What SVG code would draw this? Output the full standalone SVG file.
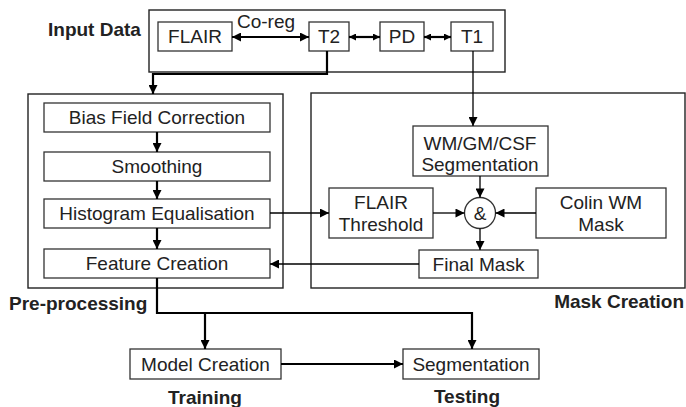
<svg xmlns="http://www.w3.org/2000/svg" width="686" height="407" viewBox="0 0 686 407">
<defs>
<style>
.box{fill:#fff;stroke:#333;stroke-width:1.3}
.grp{fill:none;stroke:#222;stroke-width:1.4}
.t{font-family:"Liberation Sans",Arial,sans-serif;font-size:19px;fill:#222;text-anchor:middle}
.b{font-family:"Liberation Sans",Arial,sans-serif;font-size:19px;font-weight:bold;fill:#222}
.c{fill:none;stroke:#000;stroke-width:1.3}
.c2{fill:none;stroke:#000;stroke-width:2.2}
</style>
<marker id="ah" viewBox="0 0 10 10" refX="10" refY="5" markerWidth="11" markerHeight="9" markerUnits="userSpaceOnUse" orient="auto-start-reverse">
<path d="M0,0 L10,5 L0,10 z" fill="#000"/>
</marker>
<marker id="ahs" viewBox="0 0 10 10" refX="10" refY="5" markerWidth="8" markerHeight="7" markerUnits="userSpaceOnUse" orient="auto-start-reverse">
<path d="M0,0 L10,5 L0,10 z" fill="#000"/>
</marker>
</defs>

<g id="labels">
<text class="b" x="48" y="36">Input Data</text>
<text class="b" x="9" y="310">Pre-processing</text>
<text class="b" x="684" y="308" text-anchor="end">Mask Creation</text>
<text class="b" x="205" y="404" text-anchor="middle">Training</text>
<text class="b" x="467" y="403" text-anchor="middle">Testing</text>
</g>

<g id="input-data"><rect class="grp" x="149" y="10" width="356" height="62"/></g>
<g id="pre-processing"><rect class="grp" x="28" y="94" width="255" height="194"/></g>
<g id="mask-creation"><rect class="grp" x="311" y="93" width="374" height="195"/></g>

<g id="flair"><rect class="box" x="158" y="22" width="74" height="29"/><text class="t" x="195" y="43">FLAIR</text></g>
<g id="t2"><rect class="box" x="309" y="22" width="40" height="29"/><text class="t" x="329" y="43">T2</text></g>
<g id="pd"><rect class="box" x="380" y="22" width="44" height="29"/><text class="t" x="402" y="43">PD</text></g>
<g id="t1"><rect class="box" x="451" y="22" width="42" height="29"/><text class="t" x="472" y="43">T1</text></g>

<g id="bias"><rect class="box" x="44" y="103" width="226" height="29"/><text class="t" x="157" y="124">Bias Field Correction</text></g>
<g id="smoothing"><rect class="box" x="44" y="152" width="226" height="29"/><text class="t" x="157" y="173">Smoothing</text></g>
<g id="histogram"><rect class="box" x="44" y="199" width="226" height="29"/><text class="t" x="157" y="220">Histogram Equalisation</text></g>
<g id="feature"><rect class="box" x="44" y="249" width="226" height="29"/><text class="t" x="157" y="270">Feature Creation</text></g>

<g id="wmgmcsf"><rect class="box" x="413" y="126" width="135" height="50"/><text class="t" x="480" y="150">WM/GM/CSF</text><text class="t" x="480" y="171">Segmentation</text></g>
<g id="flair-threshold"><rect class="box" x="329" y="188" width="104" height="50"/><text class="t" x="381" y="209">FLAIR</text><text class="t" x="381" y="231">Threshold</text></g>
<g id="and"><circle cx="480" cy="213" r="15.5" fill="#fff" stroke="#333" stroke-width="1.3"/><text class="t" x="480" y="220">&amp;</text></g>
<g id="colin"><rect class="box" x="536" y="188" width="130" height="50"/><text class="t" x="601" y="209">Colin WM</text><text class="t" x="601" y="231">Mask</text></g>
<g id="final-mask"><rect class="box" x="419" y="250" width="119" height="28"/><text class="t" x="478.5" y="271">Final Mask</text></g>

<g id="model-creation"><rect class="box" x="130" y="349" width="151" height="30"/><text class="t" x="205.5" y="371">Model Creation</text></g>
<g id="segmentation"><rect class="box" x="403" y="349" width="136" height="30"/><text class="t" x="471" y="371">Segmentation</text></g>

<g id="connectors">
<text class="t" x="266" y="28">Co-reg</text>
<line class="c2" x1="232" y1="37" x2="309" y2="37" marker-start="url(#ah)" marker-end="url(#ah)"/>
<line class="c2" x1="349" y1="37" x2="380" y2="37" marker-start="url(#ahs)" marker-end="url(#ahs)"/>
<line class="c2" x1="424" y1="37" x2="451" y2="37" marker-start="url(#ahs)" marker-end="url(#ahs)"/>
<path class="c2" d="M327,51 V74 H153 V94" marker-end="url(#ah)"/>
<path class="c" d="M473,51 V126" marker-end="url(#ah)"/>
<path class="c2" d="M157,132 V152" marker-end="url(#ah)"/>
<path class="c2" d="M157,181 V199" marker-end="url(#ah)"/>
<path class="c2" d="M157,228 V249" marker-end="url(#ah)"/>
<path class="c" d="M270,213 H329" marker-end="url(#ah)"/>
<path class="c" d="M419,264 H270" marker-end="url(#ah)"/>
<path class="c" d="M480,176 V197.5" marker-end="url(#ah)"/>
<path class="c" d="M433,213 H464.5" marker-end="url(#ah)"/>
<path class="c" d="M536,213 H495.5" marker-end="url(#ah)"/>
<path class="c" d="M480,228.5 V250" marker-end="url(#ah)"/>
<path class="c2" d="M157,278 V313 H472 V349" marker-end="url(#ah)"/>
<path class="c2" d="M205,313 V349" marker-end="url(#ah)"/>
<path class="c2" d="M281,364 H403" marker-end="url(#ah)"/>
</g>
</svg>
